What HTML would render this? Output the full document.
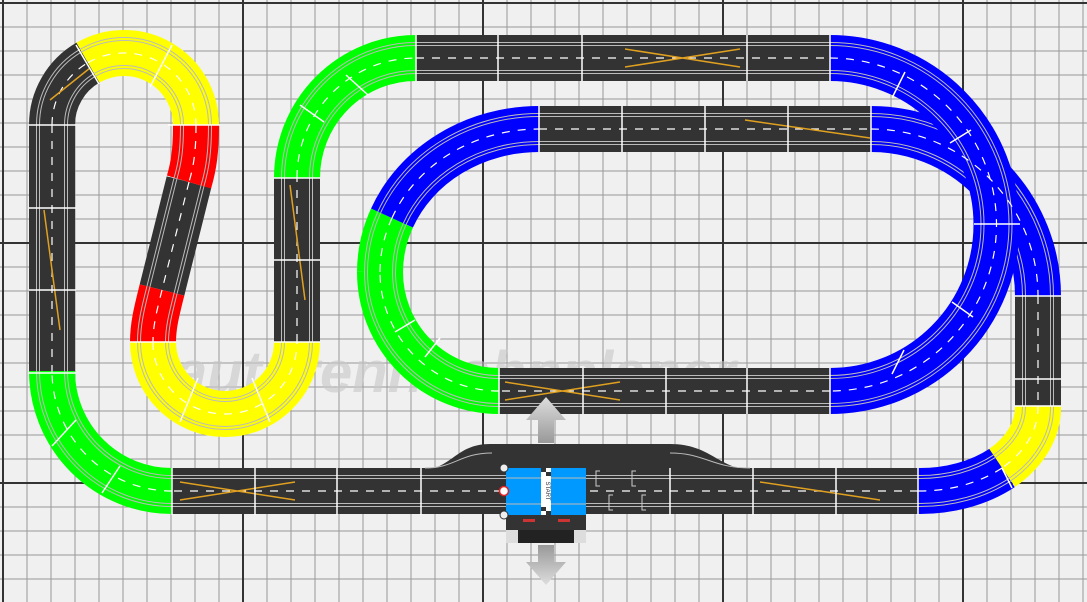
<!DOCTYPE html>
<html><head><meta charset="utf-8"><style>
html,body{margin:0;padding:0;background:#f0f0f0;}
svg{display:block}
.p{fill:none}
.b{stroke-width:46}
.r1{stroke:#bbb;stroke-width:32}
.r2{stroke:#bbb;stroke-width:26}
.c1{stroke-width:30}
.c2{stroke-width:24}
.d{stroke:#fff;stroke-width:1.2;stroke-dasharray:8 8}
.sep{stroke:#fff;stroke-width:1.5}
.yl{stroke:#e0a020;stroke-width:1.5;fill:none}
</style></head><body>
<svg width="1087" height="602" viewBox="0 0 1087 602" xmlns="http://www.w3.org/2000/svg">
<defs>
<pattern id="g" width="24" height="24" patternUnits="userSpaceOnUse" x="2.5" y="2.5">
<path d="M0,0.5 H24 M0.5,0 V24" stroke="#999" stroke-width="1" fill="none"/>
</pattern>
<pattern id="G" width="240" height="240" patternUnits="userSpaceOnUse" x="2" y="2">
<path d="M0,1 H240 M1,0 V240" stroke="#333" stroke-width="2" fill="none"/>
</pattern>
<linearGradient id="ag" x1="0" y1="0" x2="0" y2="1"><stop offset="0" stop-color="#ddd"/><stop offset="1" stop-color="#999"/></linearGradient>
<linearGradient id="ag2" x1="0" y1="0" x2="0" y2="1"><stop offset="0" stop-color="#999"/><stop offset="1" stop-color="#ddd"/></linearGradient>
<path id="t1" class="p" d="M52,125 L52,373"/>
<path id="t2" class="p" d="M52,125 A72,72 0 0 1 88,62.6"/>
<path id="t3" class="p" d="M88,62.6 A72,72 0 0 1 196,125"/>
<path id="t4" class="p" d="M196,125 C196,150 194,165 189,182"/>
<path id="t5" class="p" d="M189,182 L162,290"/>
<path id="t6" class="p" d="M162,290 C157,310 153,325 153,342"/>
<path id="t7" class="p" d="M153,342 A72,72 0 0 0 297,342"/>
<path id="t8" class="p" d="M297,342 L297,178"/>
<path id="t9" class="p" d="M297,178 A119,120 0 0 1 416,58"/>
<path id="t10" class="p" d="M416,58 L830,58"/>
<path id="t13" class="p" d="M830,391 L499,391"/>
<path id="t14" class="p" d="M499,391 A119,119 0 0 1 380,272"/>
<path id="t15" class="p" d="M380,272 A159,143 0 0 1 392,218"/>
<path id="t16" class="p" d="M392,218 A159,143 0 0 1 539,129"/>
<path id="t17" class="p" d="M539,129 L871,129"/>
<path id="t18" class="p" d="M871,129 A167,167 0 0 1 1038,296"/>
<path id="t11" class="p" d="M830,58 A166.5,166.5 0 0 1 996.5,224.5 A166.5,166.5 0 0 1 830,391"/>
<path id="t19" class="p" d="M1038,296 L1038,406"/>
<path id="t20" class="p" d="M1038,406 A120,85 0 0 1 1002,468"/>
<path id="t21" class="p" d="M1002,468 A120,85 0 0 1 918,491"/>
<path id="t22" class="p" d="M918,491 L172,491"/>
<path id="t23" class="p" d="M172,491 A120,120 0 0 1 52,371"/>
</defs>
<rect width="1087" height="602" fill="#f0f0f0"/>
<rect width="1087" height="602" fill="url(#g)"/>
<rect width="1087" height="602" fill="url(#G)"/>

<text x="175" y="392" font-family="Liberation Sans, sans-serif" font-size="58" font-weight="bold" font-style="italic" fill="#c8c8c8" opacity="0.6">autorennbahnplaner</text>

<g>
<g stroke="#333">
<use href="#t1" class="b"/><use href="#t2" class="b"/><use href="#t5" class="b"/><use href="#t8" class="b"/>
<use href="#t10" class="b"/><use href="#t13" class="b"/><use href="#t17" class="b"/><use href="#t19" class="b"/><use href="#t22" class="b"/>
</g>
<path d="M420,470 C452,470 455,444 490,444 L670,444 C712,444 718,470 755,470 Z" fill="#333"/>
<path d="M425,468 C455,468 460,453 492,453 M670,453 C705,453 712,468 750,468" stroke="#bbb" stroke-width="1" fill="none"/>
<g stroke="#bbb"><use href="#t1" class="r1"/><use href="#t2" class="r1"/><use href="#t5" class="r1"/><use href="#t8" class="r1"/><use href="#t10" class="r1"/><use href="#t13" class="r1"/><use href="#t17" class="r1"/><use href="#t19" class="r1"/><use href="#t22" class="r1"/></g>
<g stroke="#333"><use href="#t1" class="c1"/><use href="#t2" class="c1"/><use href="#t5" class="c1"/><use href="#t8" class="c1"/><use href="#t10" class="c1"/><use href="#t13" class="c1"/><use href="#t17" class="c1"/><use href="#t19" class="c1"/><use href="#t22" class="c1"/></g>
<g stroke="#bbb"><use href="#t1" class="r2"/><use href="#t2" class="r2"/><use href="#t5" class="r2"/><use href="#t8" class="r2"/><use href="#t10" class="r2"/><use href="#t13" class="r2"/><use href="#t17" class="r2"/><use href="#t19" class="r2"/><use href="#t22" class="r2"/></g>
<g stroke="#333"><use href="#t1" class="c2"/><use href="#t2" class="c2"/><use href="#t5" class="c2"/><use href="#t8" class="c2"/><use href="#t10" class="c2"/><use href="#t13" class="c2"/><use href="#t17" class="c2"/><use href="#t19" class="c2"/><use href="#t22" class="c2"/></g>

<g stroke="#ffff00"><use href="#t3" class="b"/><use href="#t7" class="b"/><use href="#t20" class="b"/></g>
<g stroke="#bbb"><use href="#t3" class="r1"/><use href="#t7" class="r1"/><use href="#t20" class="r1"/></g>
<g stroke="#ffff00"><use href="#t3" class="c1"/><use href="#t7" class="c1"/><use href="#t20" class="c1"/></g>
<g stroke="#bbb"><use href="#t3" class="r2"/><use href="#t7" class="r2"/><use href="#t20" class="r2"/></g>
<g stroke="#ffff00"><use href="#t3" class="c2"/><use href="#t7" class="c2"/><use href="#t20" class="c2"/></g>
<g stroke="#ff0000"><use href="#t4" class="b"/><use href="#t6" class="b"/></g>
<g stroke="#bbb"><use href="#t4" class="r1"/><use href="#t6" class="r1"/></g>
<g stroke="#ff0000"><use href="#t4" class="c1"/><use href="#t6" class="c1"/></g>
<g stroke="#bbb"><use href="#t4" class="r2"/><use href="#t6" class="r2"/></g>
<g stroke="#ff0000"><use href="#t4" class="c2"/><use href="#t6" class="c2"/></g>
<g stroke="#00ff00"><use href="#t9" class="b"/><use href="#t14" class="b"/><use href="#t15" class="b"/><use href="#t23" class="b"/></g>
<g stroke="#bbb"><use href="#t9" class="r1"/><use href="#t14" class="r1"/><use href="#t15" class="r1"/><use href="#t23" class="r1"/></g>
<g stroke="#00ff00"><use href="#t9" class="c1"/><use href="#t14" class="c1"/><use href="#t15" class="c1"/><use href="#t23" class="c1"/></g>
<g stroke="#bbb"><use href="#t9" class="r2"/><use href="#t14" class="r2"/><use href="#t15" class="r2"/><use href="#t23" class="r2"/></g>
<g stroke="#00ff00"><use href="#t9" class="c2"/><use href="#t14" class="c2"/><use href="#t15" class="c2"/><use href="#t23" class="c2"/></g>
<g stroke="#0000ff"><use href="#t18" class="b"/></g>
<g stroke="#bbb"><use href="#t18" class="r1"/></g>
<g stroke="#0000ff"><use href="#t18" class="c1"/></g>
<g stroke="#bbb"><use href="#t18" class="r2"/></g>
<g stroke="#0000ff"><use href="#t18" class="c2"/></g>
<g stroke="#0000ff"><use href="#t16" class="b"/><use href="#t11" class="b"/><use href="#t21" class="b"/></g>
<g stroke="#bbb"><use href="#t16" class="r1"/><use href="#t11" class="r1"/><use href="#t21" class="r1"/></g>
<g stroke="#0000ff"><use href="#t16" class="c1"/><use href="#t11" class="c1"/><use href="#t21" class="c1"/></g>
<g stroke="#bbb"><use href="#t16" class="r2"/><use href="#t11" class="r2"/><use href="#t21" class="r2"/></g>
<g stroke="#0000ff"><use href="#t16" class="c2"/><use href="#t11" class="c2"/><use href="#t21" class="c2"/></g>

<g class="d" fill="none">
<use href="#t1"/><use href="#t2"/><use href="#t3"/><use href="#t4"/><use href="#t5"/><use href="#t6"/><use href="#t7"/><use href="#t8"/><use href="#t9"/><use href="#t10"/><use href="#t18"/><use href="#t11"/><use href="#t13"/><use href="#t14"/><use href="#t15"/><use href="#t16"/><use href="#t17"/><use href="#t19"/><use href="#t20"/><use href="#t21"/><use href="#t22"/><use href="#t23"/>
</g>
</g>

<path class="yl" d="M625,49 L740,67 M625,67 L740,49 M745,120 L870,138 M505,382 L620,400 M505,400 L620,382 M180,482 L295,500 M180,500 L295,482 M760,482 L880,500 M44,210 L60,330 M290,185 L305,300 M50,100 Q75,80 90,68"/>

<g class="sep">
<path d="M498,35 V81 M582,35 V81 M747,35 V81 M416,35 V81 M830,35 V81"/>
<path d="M539,106 V152 M622,106 V152 M705,106 V152 M788,106 V152 M871,106 V152"/>
<path d="M499,368 V414 M583,368 V414 M666,368 V414 M747,368 V414 M830,368 V414"/>
<path d="M172,468 V515 M255,468 V515 M337,468 V515 M421,468 V515 M670,468 V515 M753,468 V515 M836,468 V515 M918,468 V515"/>
<path d="M29,125 H76 M29,208 H76 M29,290 H76 M29,373 H76 M274,178 H320 M274,260 H320 M274,342 H320 M1015,296 H1061 M1015,379 H1061 M1015,406 H1061 M974,224 H1020"/>
<path d="M76,45 L99,84 M150,87 L172,45 M168,125 H220 M130,342 H176 M180,422 L198,378 M252,378 L270,422"/>
<path d="M346,75 L368,95 M300,105 L324,122 M120,466 L102,493 M76,420 L52,446"/>
<path d="M905,72 L892,98 M971,130 L950,143 M952,302 L973,317 M904,350 L892,374 M440,338 L425,357 M415,320 L395,332 M1002,468 L1012,488"/>
</g>

<rect x="506" y="468" width="80" height="47" fill="#0099ff"/>
<line x1="506" y1="478" x2="586" y2="478" stroke="#bbb" stroke-width="1"/>
<line x1="506" y1="504" x2="586" y2="504" stroke="#bbb" stroke-width="1"/>
<rect x="541" y="468" width="10" height="47" fill="#fff"/>
<rect x="541" y="468" width="5" height="4" fill="#333"/><rect x="546" y="472" width="5" height="4" fill="#333"/>
<rect x="541" y="507" width="5" height="4" fill="#333"/><rect x="546" y="511" width="5" height="4" fill="#333"/>
<text x="546" y="491" font-family="Liberation Sans, sans-serif" font-size="6" fill="#333" text-anchor="middle" transform="rotate(90 546 491)">START</text>
<rect x="506" y="515" width="80" height="15" fill="#333"/>
<rect x="523" y="519" width="12" height="3" fill="#c33"/><rect x="558" y="519" width="12" height="3" fill="#c33"/>
<rect x="506" y="530" width="80" height="13" fill="#222"/>
<rect x="506" y="530" width="12" height="13" fill="#ddd"/><rect x="574" y="530" width="12" height="13" fill="#ddd"/>
<circle cx="504" cy="468" r="4" fill="#eee" stroke="#333" stroke-width="1"/>
<circle cx="504" cy="491" r="4.5" fill="#fff" stroke="#d22" stroke-width="1.5"/>
<circle cx="504" cy="515" r="4" fill="#eee" stroke="#333" stroke-width="1"/>
<path d="M600,471 h-4 v15 h4 M636,471 h-4 v15 h4 M613,495 h-4 v15 h4 M646,495 h-4 v15 h4" stroke="#ccc" stroke-width="1" fill="none"/>
<path d="M546,397 L566,420 L554,420 L554,443 L538,443 L538,420 L526,420 Z" fill="url(#ag)"/>
<path d="M538,545 L554,545 L554,562 L566,562 L546,585 L526,562 L538,562 Z" fill="url(#ag2)"/>
</svg>
</body></html>
